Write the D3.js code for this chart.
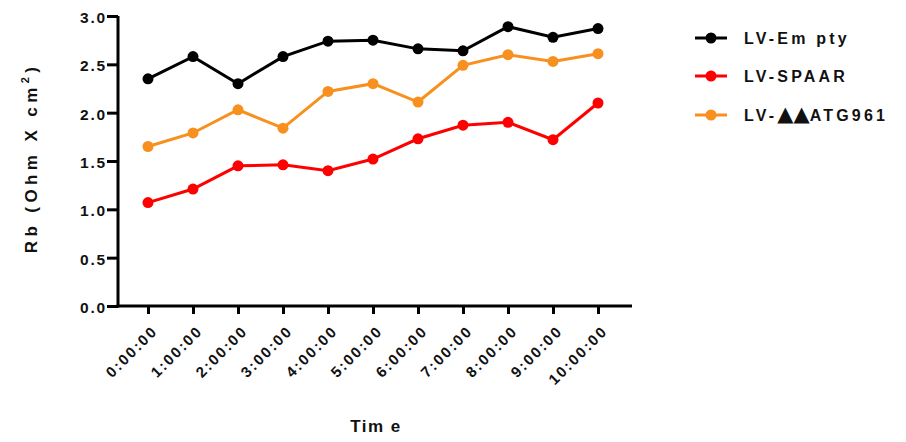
<!DOCTYPE html>
<html>
<head>
<meta charset="utf-8">
<script src="https://cdn.jsdelivr.net/npm/d3@7/dist/d3.min.js"></script>
<style>
  html, body { margin: 0; padding: 0; background: #fff; }
  svg { display: block; font-family: "Liberation Sans", Arial, sans-serif; }
</style>
</head>
<body>
<svg id="chart" width="906" height="442"></svg>
<script>
// Time points (h:mm:ss)
const times = ["0:00:00","1:00:00","2:00:00","3:00:00","4:00:00","5:00:00",
               "6:00:00","7:00:00","8:00:00","9:00:00","10:00:00"];

// Rb values (Ohm x cm^2) per condition
const lvEmpty  = [2.35, 2.58, 2.30, 2.58, 2.74, 2.75, 2.66, 2.64, 2.89, 2.78, 2.87];
const lvSpaar  = [1.07, 1.21, 1.45, 1.46, 1.40, 1.52, 1.73, 1.87, 1.90, 1.72, 2.10];
const lvDelta  = [1.65, 1.79, 2.03, 1.84, 2.22, 2.30, 2.11, 2.49, 2.60, 2.53, 2.61];

// Legend labels, split so the triangle pair can be sized on its own
const seriesNames  = [["LV-Em pty"], ["LV-SPAAR"], ["LV-", "\u25B2\u25B2", "ATG961"]];
const seriesColors = ["#000000", "#ff0000", "#f7901e"];
const seriesValues = [lvEmpty, lvSpaar, lvDelta];

const yTicks = [0.0, 0.5, 1.0, 1.5, 2.0, 2.5, 3.0];

const svg = d3.select("#chart");

const axisLeftX = 118, axisRightX = 632;
const yTop = 16, yBottom = 306;

const x = d3.scalePoint().domain(times).range([148, 598]);
const y = d3.scaleLinear().domain([0, 3]).range([yBottom, yTop]);

// Y axis
const yAxis = svg.append("g")
  .attr("transform", `translate(${axisLeftX},0)`)
  .call(d3.axisLeft(y).tickValues(yTicks).tickFormat(d3.format(".1f"))
        .tickSize(11).tickSizeOuter(0).tickPadding(0));
yAxis.select(".domain").attr("stroke", "#000").attr("stroke-width", 3)
  .attr("d", `M0,${yBottom + 1.5}V${yTop}`);
yAxis.selectAll(".tick line").attr("stroke", "#000").attr("stroke-width", 3);
yAxis.selectAll(".tick text")
  .attr("fill", "#111").attr("dy", "0.42em")
  .style("font-size", "15.5px").style("font-weight", "bold")
  .style("letter-spacing", "1.8px");

// X axis
const xAxis = svg.append("g")
  .attr("transform", `translate(0,${yBottom})`)
  .call(d3.axisBottom(x).tickSize(8).tickSizeOuter(0));
xAxis.select(".domain").attr("stroke", "#000").attr("stroke-width", 3)
  .attr("d", `M${axisLeftX - 1.5},0H${axisRightX}`);
xAxis.selectAll(".tick line").attr("stroke", "#000").attr("stroke-width", 3);
xAxis.selectAll(".tick text")
  .attr("fill", "#111").style("font-size", "15px").style("font-weight", "bold")
  .style("letter-spacing", "2px")
  .attr("text-anchor", "end")
  .attr("dy", null).attr("y", null)
  .attr("transform", "translate(10,26) rotate(-45)");

// Axis titles
svg.append("text")
  .attr("x", (axisLeftX + axisRightX) / 2 + 1).attr("y", 432)
  .attr("text-anchor", "middle")
  .style("font-size", "17px").style("font-weight", "bold")
  .style("letter-spacing", "1.5px").attr("fill", "#111")
  .text("Tim e");

const yTitle = svg.append("text")
  .attr("transform", `translate(37,158) rotate(-90)`)
  .attr("text-anchor", "middle")
  .style("font-size", "17px").style("font-weight", "bold")
  .style("letter-spacing", "4.4px").attr("fill", "#111");
yTitle.append("tspan").text("Rb (Ohm X cm");
yTitle.append("tspan").attr("dy", -8).style("font-size", "11px").text("2");
yTitle.append("tspan").attr("dy", 8).text(")");

// Lines and markers
const line = d3.line().x((d, i) => x(times[i])).y(d => y(d));

seriesValues.forEach((vals, k) => {
  const g = svg.append("g");
  g.append("path").datum(vals)
    .attr("d", line).attr("fill", "none")
    .attr("stroke", seriesColors[k]).attr("stroke-width", 3);
  g.selectAll("circle").data(vals).join("circle")
    .attr("cx", (d, i) => x(times[i])).attr("cy", d => y(d))
    .attr("r", 5.5).attr("fill", seriesColors[k]);
});

// Legend
const legendRows = [38, 76, 115];
seriesNames.forEach((parts, k) => {
  const g = svg.append("g").attr("transform", `translate(695,${legendRows[k]})`);
  g.append("line").attr("x1", 0).attr("x2", 32).attr("y1", 0).attr("y2", 0)
    .attr("stroke", seriesColors[k]).attr("stroke-width", 3);
  g.append("circle").attr("cx", 16).attr("cy", 0).attr("r", 5.5).attr("fill", seriesColors[k]);
  const t = g.append("text").attr("x", 49).attr("y", 5.5)
    .style("font-size", "16px").style("font-weight", "bold")
    .style("letter-spacing", "3.2px").attr("fill", "#111");
  parts.forEach(p => {
    const s = t.append("tspan").text(p);
    if (p.startsWith("\u25B2")) {
      // enlarged filled triangles sitting on the text baseline
      s.style("font-family", "'DejaVu Sans', sans-serif")
       .style("font-size", "21px").style("letter-spacing", "0px");
    }
  });
});
</script>
</body>
</html>
